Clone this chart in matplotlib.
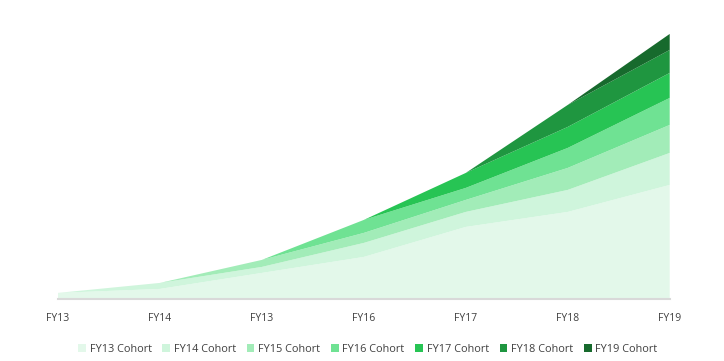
import matplotlib.pyplot as plt
import numpy as np

# x categories (the source chart repeats FY13 in the third slot)
years = ["FY13", "FY14", "FY13", "FY16", "FY17", "FY18", "FY19"]
cohorts = ["FY13 Cohort", "FY14 Cohort", "FY15 Cohort", "FY16 Cohort",
           "FY17 Cohort", "FY18 Cohort", "FY19 Cohort"]

# revenue per cohort per year (arbitrary units)
fy13 = [6, 10, 26, 42, 72, 87, 114]
fy14 = [0, 6, 6, 14, 15, 22, 32]
fy15 = [0, 0, 7, 10, 12, 22, 28]
fy16 = [0, 0, 0, 13, 12, 20, 27]
fy17 = [0, 0, 0, 0, 15, 21, 25]
fy18 = [0, 0, 0, 0, 0, 22, 23]
fy19 = [0, 0, 0, 0, 0, 0, 16]

colors = ["#e3f8ea", "#cff5dc", "#a2ecb8", "#6fe293",
          "#27c454", "#1f9640", "#176a2d"]

plt.rcParams['font.family'] = ['Open Sans', 'DejaVu Sans']

fig = plt.figure(figsize=(7.24, 3.61), dpi=100)
ax = fig.add_axes([0.080, 0.172, 0.845, 0.734])

x = np.arange(len(years))
ax.stackplot(x, fy13, fy14, fy15, fy16, fy17, fy18, fy19,
             colors=colors, labels=cohorts, linewidth=0)

ax.set_xlim(0, len(years) - 1)
ax.set_ylim(0, 265)
ax.set_xticks(x)
ax.set_xticklabels(years, fontsize=7.5, color="#404040")
ax.tick_params(axis="x", length=0, pad=10)
ax.set_yticks([])
for s in ["top", "right", "left"]:
    ax.spines[s].set_visible(False)
ax.spines["bottom"].set_color("#d9d9d9")
ax.spines["bottom"].set_linewidth(1.5)

ax.legend(loc="center", bbox_to_anchor=(0.508, 0.033),
          bbox_transform=fig.transFigure, ncol=7, frameon=False,
          fontsize=7.8, handlelength=0.7, handleheight=0.7,
          handletextpad=0.35, columnspacing=1.0, labelcolor="#404040")

fig.savefig("out.png", dpi=100)
